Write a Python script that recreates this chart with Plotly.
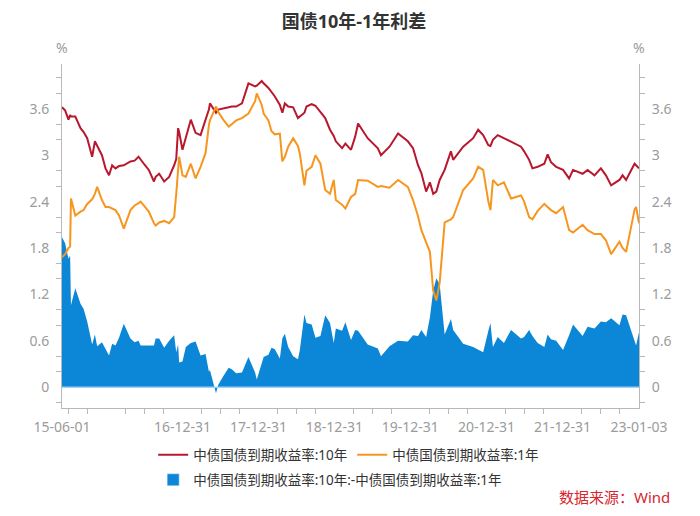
import plotly.graph_objects as go

# 中债国债到期收益率 (%)
dates = [
    "2015-06-01", "2015-06-16", "2015-07-02", "2015-07-10", "2015-07-14", "2015-08-04",
    "2015-08-29", "2015-09-13", "2015-09-30", "2015-10-24", "2015-11-06", "2015-11-17",
    "2015-12-10", "2015-12-27", "2016-01-13", "2016-01-28", "2016-02-13", "2016-03-01",
    "2016-03-24", "2016-04-25", "2016-05-15", "2016-06-03", "2016-06-13", "2016-07-01",
    "2016-07-22", "2016-08-16", "2016-08-24", "2016-09-10", "2016-10-04", "2016-10-28",
    "2016-11-21", "2016-12-01", "2016-12-10", "2016-12-15", "2016-12-31", "2017-01-16",
    "2017-02-09", "2017-03-04", "2017-03-28", "2017-04-21", "2017-05-07", "2017-05-12",
    "2017-06-10", "2017-06-21", "2017-07-15", "2017-08-10", "2017-08-25", "2017-09-15",
    "2017-10-13", "2017-11-13", "2017-12-15", "2017-12-23", "2018-01-16", "2018-01-25",
    "2018-02-17", "2018-03-04", "2018-03-20", "2018-04-13", "2018-04-25", "2018-05-07",
    "2018-05-23", "2018-06-16", "2018-07-09", "2018-07-18", "2018-08-09", "2018-08-19",
    "2018-09-13", "2018-10-01", "2018-10-25", "2018-11-17", "2018-12-10", "2018-12-28",
    "2019-01-07", "2019-02-06", "2019-02-22", "2019-03-21", "2019-04-10", "2019-04-24",
    "2019-06-09", "2019-07-28", "2019-08-12", "2019-09-22", "2019-11-02", "2019-12-19",
    "2020-01-13", "2020-02-06", "2020-02-22", "2020-03-16", "2020-04-03", "2020-04-19",
    "2020-05-04", "2020-05-20", "2020-06-13", "2020-07-13", "2020-07-24", "2020-09-10",
    "2020-10-28", "2020-11-21", "2020-12-15", "2021-01-09", "2021-01-19", "2021-01-31",
    "2021-02-23", "2021-03-25", "2021-04-28", "2021-06-15", "2021-06-30", "2021-07-24",
    "2021-08-09", "2021-09-03", "2021-10-05", "2021-10-21", "2021-11-06", "2021-12-01",
    "2022-01-03", "2022-02-01", "2022-02-20", "2022-04-07", "2022-05-01", "2022-06-03",
    "2022-07-04", "2022-07-28", "2022-08-22", "2022-10-01", "2022-10-16", "2022-11-02",
    "2022-12-05", "2022-12-13", "2022-12-20", "2023-01-03",
]

yield_10y = [
    3.62, 3.58, 3.46, 3.52, 3.50, 3.50,
    3.35, 3.30, 3.22, 2.98, 3.18, 3.12,
    3.00, 2.83, 2.74, 2.87, 2.83, 2.86,
    2.87, 2.92, 2.93, 2.98, 2.94, 2.88,
    2.81, 2.66, 2.72, 2.76, 2.66, 2.72,
    2.87, 2.95, 3.35, 3.30, 3.07, 3.24,
    3.46, 3.29, 3.26, 3.46, 3.59, 3.67,
    3.55, 3.59, 3.60, 3.62, 3.63, 3.63,
    3.67, 3.93, 3.89, 3.90, 3.96, 3.93,
    3.87, 3.82, 3.76, 3.65, 3.55, 3.67,
    3.63, 3.62, 3.48, 3.50, 3.55, 3.63,
    3.66, 3.64, 3.55, 3.48, 3.33, 3.25,
    3.18, 3.09, 3.15, 3.07, 3.24, 3.41,
    3.22, 3.09, 3.00, 3.11, 3.28, 3.18,
    3.09, 2.87, 2.77, 2.53, 2.65, 2.50,
    2.53, 2.68, 2.81, 3.05, 2.94, 3.11,
    3.22, 3.33, 3.26, 3.13, 3.12, 3.20,
    3.26, 3.22, 3.18, 3.11, 3.05, 2.94,
    2.83, 2.85, 2.89, 3.01, 2.91, 2.85,
    2.81, 2.70, 2.81, 2.76, 2.81, 2.74,
    2.83, 2.74, 2.61, 2.68, 2.74, 2.68,
    2.85, 2.89, 2.87, 2.83,
]

yield_1y = [
    1.68, 1.72, 1.80, 1.82, 2.44, 2.22,
    2.27, 2.29, 2.37, 2.43, 2.50, 2.59,
    2.42, 2.33, 2.33, 2.31, 2.29, 2.22,
    2.05, 2.29, 2.35, 2.38, 2.40, 2.34,
    2.27, 2.12, 2.09, 2.13, 2.15, 2.12,
    2.20, 2.50, 2.80, 2.98, 2.74, 2.72,
    2.89, 2.70, 2.85, 3.03, 3.39, 3.45,
    3.63, 3.56, 3.46, 3.37, 3.40, 3.45,
    3.48, 3.54, 3.70, 3.80, 3.65, 3.54,
    3.45, 3.31, 3.27, 3.28, 2.92, 2.98,
    3.11, 3.22, 3.12, 3.02, 2.61, 2.80,
    2.85, 3.00, 2.89, 2.55, 2.50, 2.68,
    2.42, 2.36, 2.31, 2.46, 2.50, 2.68,
    2.67, 2.59, 2.60, 2.58, 2.68, 2.59,
    2.42, 2.21, 2.03, 1.88, 1.75, 1.25,
    1.12, 1.35, 2.13, 2.17, 2.20, 2.55,
    2.70, 2.85, 2.81, 2.40, 2.29, 2.68,
    2.61, 2.65, 2.44, 2.48, 2.40, 2.20,
    2.17, 2.28, 2.37, 2.33, 2.29, 2.25,
    2.33, 2.03, 2.00, 2.10, 2.03, 1.98,
    1.98, 1.90, 1.72, 1.88, 1.80, 1.75,
    2.20, 2.30, 2.33, 2.12,
]

spread = [round(a - b, 2) for a, b in zip(yield_10y, yield_1y)]

x_tick_dates = ["2015-06-01", "2016-12-31", "2017-12-31", "2018-12-31",
                "2019-12-31", "2020-12-31", "2021-12-31", "2023-01-03"]
x_tick_text = ["15-06-01", "16-12-31", "17-12-31", "18-12-31",
               "19-12-31", "20-12-31", "21-12-31", "23-01-03"]
y_tick_vals = [0, 0.6, 1.2, 1.8, 2.4, 3, 3.6]
y_tick_text = ["0", "0.6", "1.2", "1.8", "2.4", "3", "3.6"]

RED = "#b8182e"
ORANGE = "#f7961f"
BLUE = "#0c87d8"
GRAY = "#9b9b9b"
AXIS = "#b8b8b8"
FONT = "Noto Sans, Noto Sans CJK SC, sans-serif"

# quarterly minor ticks, no tick at the year-end labels
minor_x = [f"{y}-{m:02d}-01" for y in range(2015, 2023) for m in (4, 7, 10)
           if f"{y}-{m:02d}-01" > "2015-06-01"]
minor_y = [-0.2, 0.2, 0.4, 0.8, 1.0, 1.4, 1.6, 2.0, 2.2, 2.6, 2.8, 3.2, 3.4, 3.8, 4.0]
y_range = [-0.27, 4.18]

fig = go.Figure()
fig.add_trace(go.Scatter(
    x=dates, y=spread, mode="lines", fill="tozeroy",
    line=dict(width=0, color=BLUE), fillcolor=BLUE,
    showlegend=False, hoverinfo="x+y"
))
fig.add_trace(go.Bar(
    x=[None], y=[None], marker_color=BLUE, legend="legend2",
    name="中债国债到期收益率:10年:-中债国债到期收益率:1年"
))
fig.add_trace(go.Scatter(
    x=dates, y=yield_10y, mode="lines", yaxis="y2",
    line=dict(color=RED, width=2),
    name="中债国债到期收益率:10年", legendrank=1
))
fig.add_trace(go.Scatter(
    x=dates, y=yield_1y, mode="lines", yaxis="y2",
    line=dict(color=ORANGE, width=2),
    name="中债国债到期收益率:1年", legendrank=2
))

tick_font = dict(family=FONT, size=14, color=GRAY)
y_common = dict(
    range=y_range, showgrid=False, zeroline=False,
    showline=True, linecolor=AXIS, linewidth=1,
    tickmode="array", tickvals=y_tick_vals, ticktext=y_tick_text, ticks="",
    minor=dict(tickvals=minor_y, ticks="outside", ticklen=5, tickcolor=AXIS),
    tickfont=tick_font, ticklabelstandoff=9,
)
legend_font = dict(family=FONT, size=13.5, color="#333333")

# the page body adds an 8px margin, so the figure is 8px smaller than the window
fig.update_layout(
    width=692, height=508,
    margin=dict(l=54, r=61, t=56, b=108),
    paper_bgcolor="white", plot_bgcolor="white",
    font=dict(family=FONT),
    title=dict(text="国债10年-1年利差", x=0.5, xanchor="center",
               yref="container", y=1 - 14 / 508, yanchor="middle",
               font=dict(family=FONT, size=18, color="#333333", weight="bold")),
    xaxis=dict(
        type="date", range=["2015-06-01", "2023-01-03"],
        showgrid=False, zeroline=False,
        showline=True, linecolor=AXIS, linewidth=1,
        tickmode="array", tickvals=x_tick_dates, ticktext=x_tick_text, ticks="",
        minor=dict(tickvals=minor_x, ticks="outside", ticklen=5, tickcolor=AXIS),
        tickfont=tick_font, ticklabelstandoff=6,
    ),
    yaxis=dict(side="left", **y_common),
    yaxis2=dict(side="right", overlaying="y", **y_common),
    legend=dict(
        orientation="h", x=0.158, xanchor="left", y=-0.1366, yanchor="middle",
        font=legend_font, bgcolor="rgba(0,0,0,0)",
    ),
    legend2=dict(
        orientation="h", x=0.158, xanchor="left", y=-0.2093, yanchor="middle",
        font=legend_font, bgcolor="rgba(0,0,0,0)",
    ),
    shapes=[dict(type="line", xref="paper", x0=0, x1=1, yref="y", y0=0, y1=0,
                 line=dict(color="#9fd3f3", width=1.5), layer="above")],
    annotations=[
        dict(text="%", xref="paper", x=0, xanchor="center",
             yref="paper", y=1.049, yanchor="middle",
             showarrow=False, font=dict(family=FONT, size=14, color=GRAY)),
        dict(text="%", xref="paper", x=1, xanchor="center",
             yref="paper", y=1.049, yanchor="middle",
             showarrow=False, font=dict(family=FONT, size=14, color=GRAY)),
        dict(text="数据来源：Wind", xref="paper", x=1.057, xanchor="right",
             yref="paper", y=-0.2587, yanchor="middle", showarrow=False,
             font=dict(family=FONT, size=15, color="#d7262e")),
    ],
)

fig.write_html("out.html")
